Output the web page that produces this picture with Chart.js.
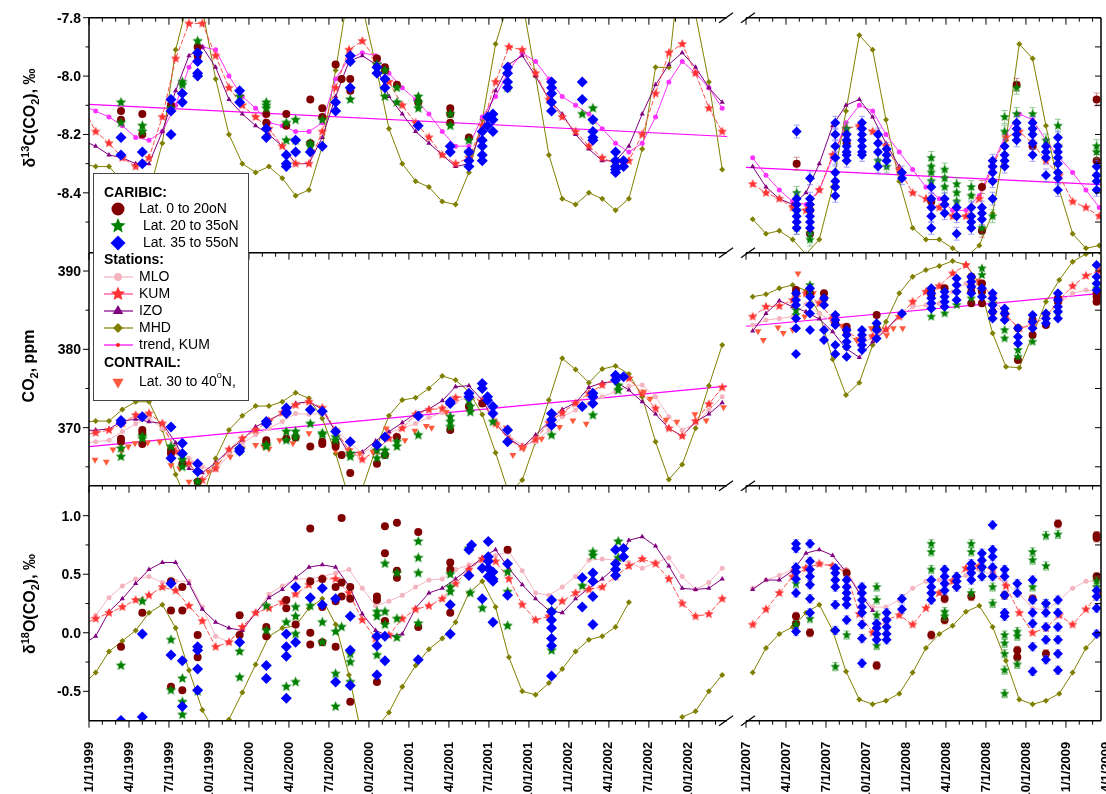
<!DOCTYPE html>
<html>
<head>
<meta charset="utf-8">
<script src="https://cdn.jsdelivr.net/npm/chart.js@4.4.1/dist/chart.umd.min.js"></script>
<style>
  html, body { margin: 0; padding: 0; background: #fff; }
  #wrap { position: relative; width: 1106px; height: 794px; overflow: hidden; }
  #wrap canvas { position: absolute; left: 0; top: 0; }
</style>
</head>
<body>
<div id="wrap"></div>
<script>
// ---- page / panel geometry ----
const W = 1106, H = 794;
const FONT = '"Liberation Sans", Arial, Helvetica, sans-serif';
const X_PIX = { L: [89, 727], R: [746, 1101] };
const X_RANGE = { L: [0, 47.86], R: [0, 26.63] };        // months since 1/1/1999 and 1/1/2007
const Y_PIX = [[17.7, 252.7], [252.7, 485.7], [485.7, 720.7]];
const Y_RANGE = [[-8.605, -7.8], [362.59, 392.34], [-0.751, 1.256]];

// ---- tick labels ----
const xLabelsLeft = ['1/1/1999', '4/1/1999', '7/1/1999', '10/1/1999', '1/1/2000', '4/1/2000', '7/1/2000', '10/1/2000',
  '1/1/2001', '4/1/2001', '7/1/2001', '10/1/2001', '1/1/2002', '4/1/2002', '7/1/2002', '10/1/2002'];
const xLabelsRight = ['1/1/2007', '4/1/2007', '7/1/2007', '10/1/2007', '1/1/2008', '4/1/2008', '7/1/2008', '10/1/2008',
  '1/1/2009', '4/1/2009'];
const yMajor = [[-7.8, -8.0, -8.2, -8.4], [370, 380, 390], [1.0, 0.5, 0.0, -0.5]];
const yMajorText = [['-7.8', '-8.0', '-8.2', '-8.4'], ['370', '380', '390'], ['1.0', '0.5', '0.0', '-0.5']];
const yMinor = [[-7.9, -8.1, -8.3, -8.5], [365, 375, 385], [0.75, 0.25, -0.25]];

// ---- colours ----
const C = {
  low: '#800000', mid: '#008000', high: '#0000ff',
  mloTop: '#ff33ff', mlo: '#f4b4c0', kum: '#ff3333', kumLine: '#ff5050',
  izo: '#800080', mhd: '#808000', trend: '#ff00ff', contrail: '#ff5a3c'
};

// ---- stations, monthly values (left panels start one month before 1/1/1999) ----
const kumTopL = [-8.10, -8.19, -8.23, -8.28, -8.31, -8.28, -8.14, -7.94, -7.82, -7.82, -7.93, -8.04, -8.10, -8.14, -8.18, -8.24, -8.30, -8.30, -8.19, -8.04, -7.91, -7.88, -7.94, -8.02, -8.10, -8.16, -8.21, -8.27, -8.30, -8.28, -8.17, -8.02, -7.90, -7.91, -7.99, -8.08, -8.14, -8.19, -8.24, -8.28, -8.30, -8.29, -8.20, -8.06, -7.92, -7.89, -7.99, -8.11, -8.19];
const izoTopL = [-8.22, -8.24, -8.27, -8.28, -8.30, -8.30, -8.19, -8.05, -7.93, -7.90, -7.97, -8.08, -8.13, -8.17, -8.20, -8.24, -8.30, -8.30, -8.21, -8.07, -7.95, -7.93, -7.96, -8.07, -8.13, -8.19, -8.23, -8.27, -8.31, -8.30, -8.18, -8.05, -7.96, -7.93, -8.00, -8.08, -8.13, -8.20, -8.25, -8.29, -8.29, -8.24, -8.13, -8.03, -7.96, -7.92, -7.97, -8.04, -8.09];
const mloTopL = [-8.10, -8.12, -8.14, -8.17, -8.21, -8.22, -8.19, -8.10, -7.97, -7.90, -7.91, -8.00, -8.07, -8.11, -8.16, -8.17, -8.19, -8.19, -8.16, -8.01, -7.94, -7.92, -7.93, -7.99, -8.04, -8.08, -8.13, -8.19, -8.24, -8.24, -8.14, -8.07, -7.98, -7.92, -7.95, -8.01, -8.07, -8.10, -8.13, -8.18, -8.23, -8.26, -8.23, -8.14, -8.02, -7.95, -7.99, -8.04, -8.11];
const mhdTopL = [-8.30, -8.31, -8.31, -8.36, -8.42, -8.40, -8.23, -7.91, -7.73, -7.77, -8.01, -8.20, -8.30, -8.33, -8.31, -8.35, -8.41, -8.39, -8.24, -7.98, -7.70, -7.76, -7.96, -8.18, -8.30, -8.36, -8.38, -8.43, -8.44, -8.33, -8.15, -7.89, -7.74, -7.74, -8.00, -8.27, -8.42, -8.44, -8.40, -8.42, -8.46, -8.42, -8.25, -7.97, -7.97, -7.55, -7.79, -8.02, -8.32];
const kumTopR = [-8.37, -8.40, -8.42, -8.45, -8.46, -8.39, -8.27, -8.18, -8.17, -8.19, -8.24, -8.32, -8.40, -8.42, -8.45, -8.48, -8.48, -8.42, -8.31, -8.21, -8.19, -8.23, -8.29, -8.34, -8.43, -8.45, -8.48];
const izoTopR = [-8.31, -8.38, -8.42, -8.44, -8.40, -8.30, -8.17, -8.10, -8.08, -8.14, -8.23, -8.31];
const mloTopR = [-8.28, -8.34, -8.39, -8.43, -8.44, -8.39, -8.28, -8.16, -8.10, -8.12, -8.20, -8.26, -8.32, -8.38, -8.42, -8.46, -8.46, -8.41, -8.30, -8.20, -8.13, -8.15, -8.22, -8.28, -8.33, -8.39, -8.45];
const mhdTopR = [-8.49, -8.54, -8.53, -8.56, -8.61, -8.56, -8.38, -8.12, -7.86, -7.91, -8.15, -8.36, -8.52, -8.56, -8.56, -8.59, -8.62, -8.58, -8.47, -8.22, -7.89, -7.94, -8.17, -8.39, -8.54, -8.59, -8.58];

const kumMidL = [369.0, 369.35, 369.69, 370.54, 371.61, 371.82, 370.54, 366.93, 365.44, 363.31, 364.80, 367.22, 368.63, 369.69, 370.84, 371.91, 372.89, 373.31, 372.55, 369.69, 367.14, 365.95, 367.01, 368.63, 369.91, 371.69, 372.29, 372.46, 373.82, 374.04, 373.31, 370.54, 368.42, 367.48, 368.50, 370.63, 371.91, 373.10, 374.38, 375.44, 376.29, 376.29, 374.38, 372.46, 369.91, 368.93, 370.84, 373.01, 375.14];
const izoMidL = [369.6, 369.69, 369.82, 370.88, 371.06, 370.76, 370.54, 368.07, 364.80, 364.24, 365.52, 367.14, 368.42, 370.12, 370.97, 371.82, 373.10, 373.31, 372.33, 369.48, 366.71, 366.9, 368.3, 369.48, 370.63, 371.82, 372.38, 373.44, 375.23, 375.36, 373.52, 370.54, 368.63, 367.48, 369.06, 370.76, 372.33, 373.18, 375.14, 375.74, 375.87, 374.80, 373.31, 371.74, 369.91, 368.93, 370.76, 371.74, 373.18];
const mloMidL = [368.0, 368.2, 368.4, 369.5, 370.5, 371.2, 369.9, 367.6, 366.1, 365.0, 364.6, 366.5, 368.0, 369.1, 369.9, 370.8, 371.8, 371.7, 371.8, 369.7, 368.2, 366.7, 367.8, 369.35, 369.91, 370.54, 371.31, 371.91, 373.31, 373.95, 373.74, 370.97, 368.84, 367.78, 368.20, 369.69, 371.40, 372.25, 373.10, 373.95, 374.59, 375.31, 375.44, 373.95, 371.40, 369.69, 370.54, 372.25, 373.95];
const mhdMidL = [370.7, 370.84, 370.84, 372.33, 373.3, 373.31, 369.78, 364.03, 359.8, 361.0, 366.07, 369.69, 371.52, 372.76, 372.76, 373.31, 374.46, 373.74, 371.18, 366.71, 361.0, 362.2, 367.22, 371.52, 373.52, 373.82, 375.01, 376.59, 376.08, 374.59, 371.69, 366.80, 361.6, 363.31, 368.2, 373.52, 378.85, 377.44, 375.74, 377.49, 377.87, 376.85, 373.95, 368.20, 363.39, 365.31, 369.91, 375.36, 380.55];
const kumMidR = [384.17, 385.44, 385.53, 386.30, 387.15, 385.87, 383.95, 382.38, 381.27, 381.70, 382.55, 384.17, 386.08, 387.36, 388.08, 389.70, 390.77, 388.64, 386.72, 384.38, 382.68, 383.10, 384.17, 386.30, 388.08, 389.40, 390.0];
const izoMidR = [382.34, 384.59, 386.21, 385.44, 384.81, 383.87, 382.25, 380.12, 378.97, 380.97, 382.47, 384.38];
const mloMidR = [383.1, 383.74, 383.95, 384.17, 385.79, 384.59, 383.53, 382.25, 380.55, 381.53, 382.47, 384.17, 385.44, 385.66, 385.87, 387.36, 388.42, 387.57, 385.87, 384.17, 382.68, 383.32, 384.38, 385.87, 387.15, 387.57, 387.36];
const mhdMidR = [386.72, 387.02, 387.79, 388.21, 387.49, 384.59, 378.72, 374.16, 375.74, 380.55, 383.53, 387.15, 389.28, 390.13, 390.64, 391.28, 390.77, 388.42, 382.04, 377.78, 377.65, 381.83, 386.08, 388.85, 391.19, 392.17, 392.47];

const kumBotL = [0.07, 0.12, 0.17, 0.22, 0.28, 0.32, 0.39, 0.36, 0.23, 0.10, -0.12, -0.08, 0.05, 0.17, 0.21, 0.26, 0.33, 0.41, 0.46, 0.46, 0.34, 0.11, -0.05, -0.02, 0.12, 0.20, 0.23, 0.29, 0.42, 0.54, 0.63, 0.61, 0.46, 0.24, 0.11, 0.14, 0.27, 0.34, 0.37, 0.39, 0.48, 0.57, 0.63, 0.59, 0.46, 0.25, 0.14, 0.16, 0.29];
const izoBotL = [-0.10, -0.03, 0.18, 0.29, 0.42, 0.54, 0.60, 0.60, 0.42, 0.20, 0.09, 0.04, 0.02, 0.17, 0.30, 0.37, 0.47, 0.56, 0.58, 0.56, 0.40, 0.16, 0.02, -0.03, -0.01, 0.21, 0.34, 0.38, 0.46, 0.55, 0.64, 0.71, 0.55, 0.41, 0.29, 0.19, 0.17, 0.29, 0.38, 0.46, 0.56, 0.79, 0.82, 0.74, 0.57, 0.38, 0.37, 0.38, 0.46];
const mloBotL = [0.08, 0.15, 0.30, 0.40, 0.46, 0.48, 0.43, 0.44, 0.44, 0.22, -0.03, -0.08, 0.04, 0.17, 0.33, 0.40, 0.46, 0.46, 0.48, 0.51, 0.54, 0.38, 0.23, 0.27, 0.32, 0.39, 0.45, 0.46, 0.54, 0.58, 0.61, 0.66, 0.69, 0.53, 0.34, 0.32, 0.39, 0.48, 0.62, 0.63, 0.62, 0.60, 0.55, 0.60, 0.64, 0.48, 0.37, 0.43, 0.55];
const mhdBotL = [-0.45, -0.34, -0.16, -0.07, 0.02, 0.17, 0.24, 0.04, -0.32, -0.66, -0.86, -0.74, -0.51, -0.27, -0.03, 0.04, 0.06, 0.21, 0.29, 0.07, -0.36, -0.90, -0.82, -0.68, -0.46, -0.28, -0.14, -0.05, 0.09, 0.34, 0.44, 0.22, -0.21, -0.50, -0.53, -0.43, -0.31, -0.16, -0.06, -0.03, 0.05, 0.26, null, null, null, -0.72, -0.67, -0.50, -0.36];
const kumBotR = [0.07, 0.20, 0.34, 0.48, 0.55, 0.59, 0.57, 0.52, 0.16, 0.00, 0.11, 0.15, 0.07, 0.21, 0.34, 0.44, 0.55, 0.57, 0.54, 0.40, 0.17, 0.00, 0.04, 0.15, 0.07, 0.20, 0.34];
const izoBotR = [0.37, 0.45, 0.45, 0.53, 0.68, 0.71, 0.66, 0.52, 0.34, 0.19];
const mloBotR = [0.38, 0.45, 0.49, 0.54, 0.56, 0.58, 0.58, 0.54, 0.35, 0.22, 0.22, 0.28, 0.38, 0.44, 0.45, 0.45, 0.49, 0.54, 0.49, 0.42, 0.33, 0.21, 0.19, 0.28, 0.38, 0.44, 0.44];
const mhdBotR = [-0.34, -0.13, -0.01, 0.05, 0.17, 0.24, 0.02, -0.33, -0.57, -0.61, -0.58, -0.52, -0.34, -0.13, -0.01, 0.06, 0.18, 0.23, 0.05, -0.24, -0.57, -0.61, -0.58, -0.52, -0.34, -0.13, -0.01];

// trend, KUM (end points)
const trendTopL = [[0, -8.097], [47.86, -8.207]];
const trendTopR = [[0, -8.313], [26.63, -8.372]];
const trendMidL = [[0, 367.57], [47.86, 375.31]];
const trendMidR = [[0, 382.95], [26.63, 387.15]];

// ---- CARIBIC samples [month, value] (left) / [month, [values]] (right) ----
const lowTopL = [[2.4, -8.12], [2.4, -8.15], [4.0, -8.13], [4.0, -8.20], [6.15, -8.10], [8.15, -7.90], [8.15, -7.93], [13.3, -8.13], [13.3, -8.16], [14.8, -8.13], [14.8, -8.17], [16.6, -8.08], [16.6, -8.23], [17.5, -8.11], [17.5, -8.14], [18.5, -7.96], [18.95, -8.01], [19.6, -8.01], [19.6, -8.05], [21.6, -7.94], [22.2, -7.97], [22.2, -7.98], [23.1, -8.03], [24.7, -8.09], [27.1, -8.11], [27.1, -8.13], [27.1, -8.16], [28.5, -8.21]];
const midTopL = [[2.4, -8.09], [2.4, -8.16], [4.0, -8.17], [4.0, -8.19], [6.15, -8.11], [7.0, -8.02], [7.0, -8.03], [8.15, -7.88], [11.3, -8.07], [13.3, -8.09], [13.3, -8.10], [13.3, -8.11], [14.8, -8.16], [14.8, -8.22], [15.5, -8.15], [15.5, -8.22], [16.6, -8.23], [16.6, -8.24], [17.5, -8.15], [19.6, -8.08], [21.6, -7.96], [22.2, -7.98], [22.2, -8.07], [23.1, -8.04], [23.1, -8.09], [24.7, -8.07], [24.7, -8.09], [24.7, -8.11], [27.1, -8.13], [27.1, -8.17], [28.5, -8.22], [28.5, -8.26], [31.4, -8.04], [37.0, -8.13], [37.8, -8.11], [37.8, -8.15], [39.5, -8.29]];
const highTopL = [[2.4, -8.21], [2.4, -8.27], [4.0, -8.26], [4.0, -8.30], [6.15, -8.08], [6.15, -8.12], [6.15, -8.20], [7.0, -8.06], [7.0, -8.09], [8.15, -7.92], [8.15, -7.95], [8.15, -7.99], [8.15, -8.00], [11.3, -8.05], [11.3, -8.09], [13.3, -8.18], [13.3, -8.21], [14.8, -8.27], [14.8, -8.30], [14.8, -8.31], [15.5, -8.22], [15.5, -8.26], [16.6, -8.26], [17.5, -8.24], [18.5, -8.09], [18.5, -8.12], [19.6, -7.93], [19.6, -7.95], [19.6, -8.04], [21.6, -7.97], [21.6, -7.99], [22.2, -8.01], [22.2, -8.04], [24.7, -8.17], [27.1, -8.24], [27.1, -8.26], [28.5, -8.26], [28.5, -8.29], [28.5, -8.31], [29.5, -8.19], [29.5, -8.22], [29.5, -8.24], [29.5, -8.27], [29.5, -8.29], [29.9, -8.14], [29.9, -8.17], [30.3, -8.13], [30.3, -8.15], [30.3, -8.19], [31.4, -7.97], [31.4, -7.99], [31.4, -8.02], [31.4, -8.04], [34.7, -8.02], [34.7, -8.04], [34.7, -8.06], [34.7, -8.09], [34.7, -8.12], [37.0, -8.02], [37.0, -8.08], [37.8, -8.15], [37.8, -8.19], [37.8, -8.21], [37.8, -8.22], [39.5, -8.26], [39.5, -8.29], [39.5, -8.31], [39.5, -8.32], [39.5, -8.33], [40.1, -8.29], [40.1, -8.31]];

const lowTopR = [[3.8, [-8.30]], [4.8, [-8.46, -8.54]], [7.55, [-8.23]], [13.9, [-8.43]], [17.7, [-8.38, -8.53]], [20.3, [-8.03]], [21.5, [-8.24]], [26.3, [-8.08, -8.29]]];
const midTopR = [[3.8, [-8.40, -8.46, -8.52]], [4.8, [-8.54, -8.56]], [7.55, [-8.18, -8.20]], [9.9, [-8.29]], [10.55, [-8.31]], [13.9, [-8.28, -8.31, -8.33, -8.36]], [14.9, [-8.32, -8.35, -8.38]], [15.8, [-8.37, -8.40, -8.43]], [16.9, [-8.38, -8.41]], [17.7, [-8.52]], [18.5, [-8.48]], [19.4, [-8.14, -8.19]], [20.3, [-8.04, -8.13]], [21.5, [-8.13, -8.18]], [22.5, [-8.22]], [23.4, [-8.17, -8.24]], [26.3, [-8.24, -8.26]]];
const highTopR = [[3.8, [-8.19, -8.42, -8.44, -8.46, -8.48, -8.50, -8.52]], [4.8, [-8.35, -8.42, -8.44, -8.46, -8.48, -8.50, -8.52]], [6.7, [-8.16, -8.20, -8.24, -8.28, -8.33, -8.36, -8.38, -8.41]], [7.55, [-8.20, -8.22, -8.24, -8.26, -8.27, -8.29]], [8.7, [-8.16, -8.18, -8.20, -8.22, -8.24, -8.26, -8.27]], [9.9, [-8.20, -8.23, -8.26, -8.31]], [10.55, [-8.25, -8.27, -8.29]], [11.7, [-8.33, -8.35]], [13.9, [-8.38, -8.42, -8.45, -8.48, -8.52]], [14.9, [-8.42, -8.44, -8.47]], [15.8, [-8.45, -8.48, -8.54]], [16.9, [-8.45, -8.48, -8.50, -8.52]], [17.7, [-8.45, -8.47, -8.49]], [18.5, [-8.29, -8.31, -8.33, -8.36, -8.42]], [19.4, [-8.24, -8.27, -8.29, -8.31]], [20.3, [-8.16, -8.18, -8.20, -8.22]], [21.5, [-8.16, -8.18, -8.20, -8.23, -8.27]], [22.5, [-8.24, -8.26, -8.28, -8.34]], [23.4, [-8.21, -8.24, -8.26, -8.28, -8.30, -8.33, -8.35, -8.39]], [26.3, [-8.31, -8.34, -8.36, -8.39]]];

const lowMidL = [[2.4, 368.6], [2.4, 368.2], [4.0, 369.7], [4.0, 369.35], [4.0, 367.9], [6.15, 367.1], [6.15, 366.7], [7.0, 365.4], [8.15, 363.1], [13.3, 368.4], [13.3, 368.1], [14.8, 368.6], [15.5, 368.75], [16.6, 367.6], [17.5, 368.2], [17.5, 367.9], [18.5, 368.0], [18.5, 367.6], [18.95, 366.5], [19.6, 364.2], [21.6, 365.4], [22.2, 366.5], [23.1, 368.8], [27.1, 369.7], [28.5, 372.7], [29.5, 373.1]];
const midMidL = [[2.4, 367.35], [2.4, 366.3], [4.0, 368.9], [4.0, 368.6], [6.15, 367.6], [7.0, 366.4], [7.0, 365.9], [7.0, 365.0], [8.15, 363.1], [11.3, 367.35], [11.3, 367.1], [13.3, 367.8], [13.3, 367.6], [14.8, 369.5], [14.8, 368.4], [15.5, 369.5], [15.5, 368.8], [16.6, 370.5], [17.5, 369.3], [17.5, 369.1], [18.5, 368.8], [18.5, 368.4], [19.6, 366.7], [19.6, 366.3], [21.6, 367.1], [21.6, 366.1], [22.2, 367.1], [22.2, 366.5], [23.1, 368.2], [23.1, 367.6], [24.7, 369.05], [27.1, 371.4], [27.1, 370.75], [27.1, 370.1], [28.5, 373.5], [28.6, 372.7], [28.6, 372.0], [30.3, 370.75], [34.7, 369.05], [37.8, 371.6], [39.7, 375.4], [39.7, 374.8]];
const highMidL = [[2.4, 370.9], [2.4, 370.6], [4.0, 371.4], [6.15, 370.1], [6.15, 366.1], [7.0, 368.0], [7.0, 366.7], [8.15, 365.4], [8.15, 364.4], [11.3, 367.3], [11.3, 367.0], [13.3, 370.8], [13.3, 370.5], [14.8, 372.5], [14.8, 372.0], [14.8, 371.8], [16.6, 372.3], [17.5, 372.1], [18.5, 369.5], [19.6, 368.2], [21.6, 367.8], [22.2, 368.8], [24.7, 371.5], [27.1, 373.3], [27.1, 373.1], [28.5, 374.4], [28.5, 373.95], [29.5, 375.65], [29.5, 375.0], [29.9, 373.95], [29.9, 373.5], [30.3, 372.7], [30.3, 371.8], [31.4, 369.7], [31.4, 368.2], [34.7, 371.8], [34.7, 371.0], [34.7, 370.3], [37.0, 372.7], [37.8, 374.4], [37.8, 373.95], [37.8, 373.1], [39.5, 376.7], [39.5, 376.1], [40.1, 376.5]];

const lowMidR = [[3.75, [387.57, 387.15]], [4.8, [387.15]], [5.85, [387.15, 386.51]], [6.7, [383.32]], [7.55, [382.89, 382.46]], [9.8, [384.38, 382.68]], [13.9, [387.57, 386.93]], [14.9, [387.79]], [16.9, [389.28, 388.0, 387.36, 385.87]], [17.7, [388.42, 387.36, 385.87]], [18.5, [384.81]], [19.4, [384.59]], [20.4, [382.68, 378.63]], [21.5, [383.74, 381.83]], [22.5, [383.1]], [23.4, [386.51, 386.08]], [26.3, [387.15, 386.72, 386.08]]];
const midMidR = [[3.75, [385.02, 384.38]], [4.8, [388.21, 387.57]], [9.8, [383.1]], [13.9, [384.17]], [14.9, [384.59]], [15.8, [385.66]], [16.9, [386.51]], [17.7, [390.34, 389.49]], [18.5, [385.87]], [19.4, [382.46, 381.4]], [20.4, [379.91, 379.06]], [21.5, [380.97]], [23.4, [384.81]], [26.3, [387.79]]];
const highMidR = [[3.75, [387.15, 386.3, 385.66, 383.95, 382.68, 379.4]], [4.8, [387.79, 386.72, 385.66, 384.59, 382.46]], [5.85, [386.51, 385.66, 382.46, 381.19]], [6.7, [384.38, 383.74, 383.1, 380.55, 379.4]], [7.55, [382.46, 381.83, 380.97, 380.34, 379.06]], [8.7, [382.46, 381.83, 381.19, 380.55, 379.91]], [9.8, [383.32, 382.46, 381.4]], [11.7, [384.59]], [13.9, [387.79, 387.15, 386.51, 385.87, 385.23]], [14.9, [387.36, 386.72, 386.08, 385.44]], [15.8, [389.06, 388.21, 387.36, 386.3]], [16.9, [389.28, 388.64, 388.0, 387.15]], [17.7, [387.79, 386.72]], [18.5, [387.15, 386.51, 385.66, 384.81, 383.95]], [19.4, [385.23, 384.59, 383.74]], [20.4, [382.68, 381.61, 380.76]], [21.5, [384.38, 383.53, 382.68]], [22.5, [384.59, 383.95, 383.32]], [23.4, [387.15, 386.3, 385.44, 384.81, 383.95]], [26.3, [390.77, 389.28, 388.42, 387.57]]];

const lowBotL = [[2.4, -0.12], [4.0, 0.17], [6.15, 0.44], [6.15, 0.19], [6.15, -0.46], [7.0, 0.39], [7.0, 0.19], [7.0, -0.49], [8.15, -0.02], [8.15, -0.21], [11.3, 0.15], [11.3, -0.02], [13.3, 0.05], [13.3, -0.03], [14.8, 0.28], [14.8, 0.21], [15.5, 0.07], [16.6, 0.89], [16.6, 0.44], [16.6, 0.0], [16.6, -0.10], [17.5, 0.46], [17.5, 0.22], [17.5, -0.08], [18.5, 0.39], [18.5, 0.27], [18.5, -0.12], [18.95, 0.98], [18.95, 0.43], [18.95, 0.31], [19.6, 0.39], [19.6, 0.29], [19.6, -0.59], [21.6, 0.31], [21.6, 0.28], [21.6, -0.42], [22.2, 0.91], [22.2, 0.68], [22.2, 0.10], [23.1, 0.94], [23.1, 0.53], [23.1, 0.47], [24.7, 0.86], [24.7, 0.05], [27.1, 0.60], [27.1, 0.54], [27.1, 0.17], [31.4, 0.71]];
const midBotL = [[2.4, -0.28], [4.0, 0.27], [6.15, -0.06], [6.15, -0.49], [7.0, -0.39], [7.0, -0.59], [7.0, -0.70], [8.15, -0.50], [11.3, -0.16], [11.3, -0.38], [13.3, 0.02], [13.3, 0.23], [14.8, 0.09], [14.8, -0.46], [15.5, 0.22], [15.5, 0.14], [15.5, -0.01], [15.5, -0.42], [16.6, 0.23], [17.5, 0.09], [17.5, -0.08], [18.5, 0.01], [18.5, -0.35], [18.5, -0.63], [18.95, 0.05], [19.6, -0.18], [19.6, -0.25], [19.6, -0.42], [21.6, 0.18], [21.6, 0.14], [21.6, -0.19], [22.2, 0.59], [22.2, 0.18], [22.2, 0.07], [23.1, 0.51], [23.1, 0.12], [23.1, -0.04], [24.7, 0.78], [24.7, 0.64], [24.7, 0.51], [24.7, 0.08], [27.1, 0.50], [27.1, 0.39], [27.1, 0.35], [28.5, 0.72], [28.6, 0.34], [29.5, 0.21], [31.4, 0.52], [31.4, 0.35], [31.4, 0.06], [34.7, 0.19], [34.7, -0.15], [37.0, 0.40], [37.8, 0.69], [37.8, 0.66], [39.7, 0.78], [39.7, 0.64]];
const highBotL = [[2.4, -0.75], [4.0, -0.01], [4.0, -0.72], [6.15, 0.42], [6.15, -0.19], [7.0, -0.24], [7.0, -0.63], [8.15, -0.12], [8.15, -0.15], [8.15, -0.31], [8.15, -0.49], [11.3, -0.08], [13.3, -0.28], [13.3, -0.39], [14.8, -0.01], [14.8, -0.12], [14.8, -0.20], [14.8, -0.56], [15.5, 0.39], [15.5, -0.08], [16.6, 0.30], [17.5, 0.38], [17.5, 0.24], [18.5, 0.29], [18.5, -0.42], [19.6, 0.14], [19.6, -0.15], [19.6, -0.45], [21.6, -0.03], [21.6, -0.11], [21.6, -0.36], [22.2, -0.03], [22.2, -0.24], [24.7, -0.23], [27.1, 0.24], [27.1, -0.01], [28.5, 0.71], [28.5, 0.49], [28.7, 0.75], [29.5, 0.55], [29.5, 0.29], [29.95, 0.78], [29.95, 0.65], [29.95, 0.61], [29.95, 0.55], [29.95, 0.48], [30.3, 0.52], [30.3, 0.46], [30.3, 0.44], [30.3, 0.09], [31.4, 0.59], [31.4, 0.32], [34.7, 0.28], [34.7, 0.18], [34.7, 0.11], [34.7, 0.04], [34.7, -0.05], [34.7, -0.11], [34.7, -0.37], [37.0, 0.47], [37.0, 0.22], [37.8, 0.51], [37.8, 0.44], [37.8, 0.31], [37.8, 0.07], [39.5, 0.71], [39.5, 0.59], [39.5, 0.54], [39.5, 0.49], [40.1, 0.72], [40.1, 0.65]];

const lowBotR = [[3.75, [0.14, 0.08]], [4.8, [0.0]], [7.55, [0.51]], [9.8, [-0.28]], [13.9, [-0.02]], [14.9, [0.29, 0.11]], [16.9, [0.31]], [19.4, [0.32]], [20.35, [-0.15, -0.21]], [21.5, [0.29]], [22.5, [-0.18]], [23.4, [0.93]], [26.3, [0.83, 0.81, 0.48]]];
const midBotR = [[3.75, [0.42, 0.07]], [4.8, [0.12]], [6.7, [-0.29]], [7.55, [-0.02]], [9.8, [0.39, 0.28, 0.15, -0.11]], [13.9, [0.76, 0.69, 0.54]], [14.9, [0.18, 0.14]], [16.9, [0.76, 0.69, 0.34]], [17.7, [0.56]], [18.5, [0.39, 0.25]], [19.4, [-0.02, -0.09, -0.18, -0.32, -0.52]], [20.35, [0.01, -0.03, -0.27]], [21.5, [0.69, 0.62, 0.39]], [22.5, [0.83, 0.57, 0.25]], [23.4, [0.84]], [26.3, [0.44, 0.39]]];
const highBotR = [[3.75, [0.76, 0.72, 0.56, 0.52, 0.46, 0.34, 0.01]], [4.8, [0.76, 0.61, 0.54, 0.48, 0.41, 0.29, 0.17]], [6.7, [0.55, 0.51, 0.45, 0.39, 0.24, 0.02]], [7.55, [0.45, 0.39, 0.34, 0.29, 0.24, 0.11]], [8.7, [0.39, 0.34, 0.28, 0.22, 0.17, 0.07, -0.05, -0.26]], [9.8, [0.08, 0.04, -0.01, -0.06]], [10.55, [0.17, 0.11, 0.05, -0.01, -0.06]], [11.7, [0.29, 0.20]], [13.9, [0.45, 0.39, 0.34, 0.28]], [14.9, [0.54, 0.48, 0.42, 0.36]], [15.8, [0.48, 0.44, 0.39]], [16.9, [0.59, 0.55, 0.51, 0.45]], [17.7, [0.68, 0.62, 0.56, 0.48]], [18.5, [0.92, 0.71, 0.65, 0.56, 0.48]], [19.4, [0.54, 0.48, 0.32, 0.17, 0.14]], [20.35, [0.42, 0.34]], [21.5, [0.45, 0.28, 0.17, 0.08, -0.12, -0.33]], [22.5, [0.25, 0.17, 0.05, -0.06, -0.23]], [23.4, [0.28, 0.17, 0.05, -0.06, -0.18, -0.32]], [26.3, [0.36, 0.31, 0.21, -0.01]]];

// ---- CONTRAIL ----
const contrailMidL = [[0.45, 365.9], [1.3, 365.65], [1.8, 367.2], [2.45, 367.1], [2.95, 367.6], [3.45, 368.0], [4.4, 368.1], [5.3, 368.2], [6.15, 365.2], [6.8, 364.8], [7.5, 363.1], [8.3, 362.9], [8.95, 364.4], [9.6, 365.4], [10.6, 366.3], [11.5, 367.35], [12.5, 367.8], [13.1, 367.6], [13.5, 367.3], [14.3, 368.4], [15.3, 368.0], [16.5, 369.3], [17.5, 368.0], [18.5, 367.1], [19.5, 367.1], [20.3, 366.7], [21.3, 366.9], [22.3, 369.9], [23.7, 368.4], [24.45, 369.6], [25.3, 370.2], [25.7, 370.0], [26.8, 372.0], [30.6, 370.3], [31.3, 370.0], [31.8, 366.5], [32.6, 367.35], [33.95, 368.6], [35.3, 370.1], [36.3, 370.9], [37.3, 370.5], [41.6, 374.6], [42.1, 373.7], [43.3, 371.0], [44.1, 370.75], [45.45, 371.7], [46.3, 370.9], [47.6, 372.6]];
const contrailMidR = [[0.9, 382.3], [1.3, 381.2], [2.4, 382.8], [2.8, 382.1], [3.5, 382.5], [3.9, 389.7], [4.4, 384.2], [5.05, 387.15], [7.2, 383.0], [8.3, 381.2], [9.4, 382.7], [10.55, 381.8], [11.05, 382.7], [11.75, 382.7]];

// ---- helpers ----
const xyPairs = arr => arr.map(([x, y]) => ({ x, y }));
const xyCols = arr => arr.flatMap(([x, ys]) => ys.map(y => ({ x, y })));
const monthly = (vals, start) => vals.map((y, i) => ({ x: start + i + 0.5, y }));

function starPath(ctx, x, y, r) {
  for (let i = 0; i < 10; i++) {
    const a = -Math.PI / 2 + i * Math.PI / 5;
    const rr = i % 2 ? r * 0.45 : r;
    const px = x + rr * Math.cos(a), py = y + rr * Math.sin(a);
    if (i === 0) ctx.moveTo(px, py); else ctx.lineTo(px, py);
  }
}
function makeStar(r, color) {
  const c = document.createElement('canvas');
  const s = Math.ceil(r * 2 + 2);
  c.width = c.height = s;
  const g = c.getContext('2d');
  g.beginPath(); starPath(g, s / 2, s / 2, r); g.closePath();
  g.fillStyle = color; g.fill();
  return c;
}
const starKum = makeStar(5, C.kum);
const starGreen = makeStar(5.5, C.mid);
const starGreenR = makeStar(5, C.mid);

function line(ctx, x1, y1, x2, y2) {
  ctx.beginPath(); ctx.moveTo(x1, y1); ctx.lineTo(x2, y2); ctx.stroke();
}

function stationSet(vals, start, color, style, r, extra) {
  return Object.assign({
    data: monthly(vals, start), showLine: true, borderColor: color, borderWidth: 1,
    pointStyle: style, pointRadius: r, pointBackgroundColor: color, pointBorderColor: color,
    pointBorderWidth: 0, spanGaps: false
  }, extra || {});
}
function scatterSet(data, style, r, color, extra) {
  return Object.assign({
    data, showLine: false, pointStyle: style, pointRadius: r,
    pointBackgroundColor: color, pointBorderColor: color, pointBorderWidth: 0
  }, extra || {});
}
function trendSet(pairs) {
  return { data: xyPairs(pairs), showLine: true, borderColor: C.trend, borderWidth: 1.2, pointRadius: 0 };
}

// error bars for the 2007-2009 CARIBIC samples
const errPlugin = {
  id: 'errbars',
  beforeDatasetDraw(chart, args) {
    const ds = chart.data.datasets[args.index];
    if (!ds.errY) return;
    const ctx = chart.ctx, ys = chart.scales.y, a = chart.chartArea;
    ctx.save();
    ctx.beginPath(); ctx.rect(a.left, a.top, a.right - a.left, a.bottom - a.top); ctx.clip();
    ctx.strokeStyle = ds.errColor; ctx.lineWidth = 1;
    args.meta.data.forEach((p, i) => {
      const v = ds.data[i].y;
      const y1 = ys.getPixelForValue(v + ds.errY), y2 = ys.getPixelForValue(v - ds.errY);
      ctx.beginPath();
      ctx.moveTo(p.x, y1); ctx.lineTo(p.x, y2);
      ctx.moveTo(p.x - 3, y1); ctx.lineTo(p.x + 3, y1);
      ctx.moveTo(p.x - 3, y2); ctx.lineTo(p.x + 3, y2);
      ctx.stroke();
    });
    ctx.restore();
  }
};

// frame, ticks and tick labels of one box
function framePlugin(side, panel) {
  return {
    id: 'frame',
    afterDraw(chart) {
      const ctx = chart.ctx, a = chart.chartArea, xs = chart.scales.x, ys = chart.scales.y;
      ctx.save();
      ctx.strokeStyle = '#000';
      ctx.lineWidth = 1.5;
      const hLines = [a.bottom];
      if (panel === 0) hLines.push(a.top);
      hLines.forEach(yy => line(ctx, a.left, yy, a.right, yy));
      const vx = side === 'L' ? a.left : a.right;
      line(ctx, vx, a.top, vx, a.bottom);
      // axis break marks
      const bx = side === 'L' ? a.right - 1 : a.left + 2;
      ctx.lineWidth = 1.3;
      hLines.forEach(yy => line(ctx, bx - 7, yy + 5, bx + 7, yy - 5));

      // month ticks
      ctx.lineWidth = 1;
      for (let m = Math.ceil(xs.min); m <= xs.max + 1e-6; m++) {
        const px = xs.getPixelForValue(m);
        const len = m % 3 === 0 ? 7 : 4;
        line(ctx, px, a.bottom, px, a.bottom + len);
        if (panel === 0) line(ctx, px, a.top, px, a.top + len);
      }
      // value ticks
      if (side === 'L') {
        yMajor[panel].forEach(v => { const py = ys.getPixelForValue(v); line(ctx, a.left - 6, py, a.left, py); });
        yMinor[panel].forEach(v => { const py = ys.getPixelForValue(v); line(ctx, a.left - 3.5, py, a.left, py); });
        ctx.fillStyle = '#000';
        ctx.font = `bold 14px ${FONT}`;
        ctx.textAlign = 'right'; ctx.textBaseline = 'middle';
        yMajor[panel].forEach((v, i) => ctx.fillText(yMajorText[panel][i], a.left - 8, ys.getPixelForValue(v) + 1));
      } else {
        yMajor[panel].concat(yMinor[panel]).forEach(v => {
          const py = ys.getPixelForValue(v); line(ctx, a.right - 6, py, a.right, py);
        });
      }
      // date labels under the lowest boxes
      if (panel === 2) {
        const labels = side === 'L' ? xLabelsLeft : xLabelsRight;
        ctx.fillStyle = '#000';
        ctx.font = `bold 13px ${FONT}`;
        ctx.textAlign = 'right'; ctx.textBaseline = 'middle';
        labels.forEach((t, i) => {
          const px = xs.getPixelForValue(i * 3);
          ctx.save(); ctx.translate(px, a.bottom + 21); ctx.rotate(-Math.PI / 2);
          ctx.fillText(t, 0, 0); ctx.restore();
        });
      }
      ctx.restore();
    }
  };
}

// rotated axis title with super/subscripts
function drawRich(ctx, cx, cy, parts) {
  ctx.save();
  ctx.translate(cx, cy); ctx.rotate(-Math.PI / 2);
  ctx.fillStyle = '#000'; ctx.textAlign = 'left'; ctx.textBaseline = 'alphabetic';
  let w = 0;
  parts.forEach(p => { ctx.font = `bold ${p.s}px ${FONT}`; p.w = ctx.measureText(p.t).width; w += p.w; });
  let x = -w / 2;
  parts.forEach(p => { ctx.font = `bold ${p.s}px ${FONT}`; ctx.fillText(p.t, x, 6 + (p.dy || 0)); x += p.w; });
  ctx.restore();
}

function marker(ctx, kind, x, y, r, color) {
  ctx.fillStyle = color;
  ctx.beginPath();
  if (kind === 'circle') ctx.arc(x, y, r, 0, Math.PI * 2);
  else if (kind === 'diamond') { ctx.moveTo(x, y - r); ctx.lineTo(x + r, y); ctx.lineTo(x, y + r); ctx.lineTo(x - r, y); }
  else if (kind === 'triangle') { ctx.moveTo(x, y - r); ctx.lineTo(x + r * 0.87, y + r * 0.5); ctx.lineTo(x - r * 0.87, y + r * 0.5); }
  else if (kind === 'triangleDown') { ctx.moveTo(x, y + r); ctx.lineTo(x + r * 0.87, y - r * 0.5); ctx.lineTo(x - r * 0.87, y - r * 0.5); }
  else if (kind === 'star') starPath(ctx, x, y, r);
  ctx.closePath(); ctx.fill();
}

const legendRows = [
  { head: 'CARIBIC:', y: 193 },
  { mk: 'circle', color: C.low, r: 6.5, text: 'Lat. 0 to 20oN', y: 209 },
  { mk: 'star', color: C.mid, r: 8, text: ' Lat. 20 to 35oN', y: 226 },
  { mk: 'diamond', color: C.high, r: 7.5, text: ' Lat. 35 to 55oN', y: 243 },
  { head: 'Stations:', y: 260 },
  { mk: 'circle', color: C.mlo, r: 4, line: C.mlo, text: 'MLO', y: 277 },
  { mk: 'star', color: C.kum, r: 7.5, line: '#ff4090', text: 'KUM', y: 294 },
  { mk: 'triangle', color: C.izo, r: 6, line: C.izo, text: 'IZO', y: 311 },
  { mk: 'diamond', color: C.mhd, r: 5, line: C.mhd, text: 'MHD', y: 328 },
  { mk: 'circle', color: '#ff2020', r: 2, line: C.trend, text: 'trend, KUM', y: 345 },
  { head: 'CONTRAIL:', y: 363 },
  { mk: 'triangleDown', color: C.contrail, r: 6.5, text: 'Lat. 30 to 40', sup: 'o', tail: 'N,', y: 382 }
];

function drawLegend(ctx) {
  ctx.save();
  ctx.fillStyle = '#fff'; ctx.fillRect(93, 173, 155, 227);
  ctx.strokeStyle = '#444'; ctx.lineWidth = 1; ctx.strokeRect(93.5, 173.5, 155, 227);
  ctx.textBaseline = 'middle'; ctx.textAlign = 'left';
  legendRows.forEach(r => {
    if (r.head) {
      ctx.fillStyle = '#000'; ctx.font = `bold 14px ${FONT}`;
      ctx.fillText(r.head, 104, r.y);
      return;
    }
    if (r.line) { ctx.strokeStyle = r.line; ctx.lineWidth = 1.2; line(ctx, 104, r.y, 133, r.y); }
    marker(ctx, r.mk, 118, r.y, r.r, r.color);
    ctx.fillStyle = '#000'; ctx.font = `14px ${FONT}`;
    ctx.fillText(r.text, 139, r.y);
    if (r.sup) {
      let x = 139 + ctx.measureText(r.text).width;
      ctx.font = `9px ${FONT}`; ctx.fillText(r.sup, x, r.y - 6);
      x += ctx.measureText(r.sup).width;
      ctx.font = `14px ${FONT}`; ctx.fillText(r.tail, x, r.y);
    }
  });
  ctx.restore();
}

const decorPlugin = {
  id: 'decor',
  afterDraw(chart) {
    const ctx = chart.ctx;
    drawRich(ctx, 29, 118, [{ t: 'δ', s: 16 }, { t: '13', s: 11, dy: -6 }, { t: 'C(CO', s: 16 }, { t: '2', s: 11, dy: 4 }, { t: '), ‰', s: 16 }]);
    drawRich(ctx, 28, 366, [{ t: 'CO', s: 16 }, { t: '2', s: 11, dy: 4 }, { t: ', ppm', s: 16 }]);
    drawRich(ctx, 29, 604, [{ t: 'δ', s: 16 }, { t: '18', s: 11, dy: -6 }, { t: 'O(CO', s: 16 }, { t: '2', s: 11, dy: 4 }, { t: '), ‰', s: 16 }]);
    drawLegend(ctx);
  }
};

// ---- build one box ----
const wrap = document.getElementById('wrap');
function makeChart(side, panel, datasets, extraPlugins) {
  const cv = document.createElement('canvas');
  cv.width = W; cv.height = H;
  wrap.appendChild(cv);
  const xp = X_PIX[side], xr = X_RANGE[side], yp = Y_PIX[panel], yr = Y_RANGE[panel];
  return new Chart(cv, {
    type: 'line',
    data: { datasets },
    options: {
      responsive: false, animation: false, devicePixelRatio: 1, events: [],
      layout: { padding: { left: xp[0], right: W - xp[1], top: yp[0], bottom: H - yp[1] } },
      plugins: { legend: { display: false }, tooltip: { enabled: false } },
      scales: {
        x: { type: 'linear', min: xr[0], max: xr[1], display: false },
        y: { type: 'linear', min: yr[0], max: yr[1], display: false }
      },
      elements: { line: { tension: 0 } }
    },
    plugins: [errPlugin, framePlugin(side, panel)].concat(extraPlugins || [])
  });
}

function caribic(low, mid, high, isCols, sizes, err) {
  const conv = isCols ? xyCols : xyPairs;
  const e = err || 0;
  return [
    scatterSet(conv(high), 'rectRot', sizes[2], C.high, { errY: e, errColor: 'rgba(90,90,255,0.55)' }),
    scatterSet(conv(mid), sizes[1] > 5 ? starGreen : starGreenR, sizes[1], C.mid, { errY: e, errColor: 'rgba(60,160,60,0.55)' }),
    scatterSet(conv(low), 'circle', sizes[0], C.low, { errY: e, errColor: 'rgba(170,60,60,0.55)' })
  ];
}
function stations(kum, izo, mlo, mhd, start, mloColor) {
  return [
    stationSet(kum, start, C.kumLine, starKum, 5, { borderDash: [5, 2] }),
    stationSet(izo, start, C.izo, 'triangle', 3),
    stationSet(mlo, start, mloColor, 'circle', 2.5),
    stationSet(mhd, start, C.mhd, 'rectRot', 3)
  ];
}
const contrailSet = pairs => scatterSet(xyPairs(pairs), 'triangle', 4, C.contrail, { pointRotation: 180 });

// lowest boxes first so that the upper ones (and the legend) lie on top
makeChart('R', 2, [...caribic(lowBotR, midBotR, highBotR, true, [4, 5, 5], 0.035),
  ...stations(kumBotR, izoBotR, mloBotR, mhdBotR, 0, C.mlo)]);
makeChart('L', 2, [...caribic(lowBotL, midBotL, highBotL, false, [4, 5.5, 5.5]),
  ...stations(kumBotL, izoBotL, mloBotL, mhdBotL, -1, C.mlo)]);
makeChart('R', 1, [...caribic(lowMidR, midMidR, highMidR, true, [4, 5, 5]), contrailSet(contrailMidR),
  ...stations(kumMidR, izoMidR, mloMidR, mhdMidR, 0, C.mlo), trendSet(trendMidR)]);
makeChart('L', 1, [...caribic(lowMidL, midMidL, highMidL, false, [4, 5.5, 5.5]), contrailSet(contrailMidL),
  ...stations(kumMidL, izoMidL, mloMidL, mhdMidL, -1, C.mlo), trendSet(trendMidL)]);
makeChart('R', 0, [...caribic(lowTopR, midTopR, highTopR, true, [4, 5, 5], 0.022),
  ...stations(kumTopR, izoTopR, mloTopR, mhdTopR, 0, C.mloTop), trendSet(trendTopR)]);
makeChart('L', 0, [...caribic(lowTopL, midTopL, highTopL, false, [4, 5.5, 5.5]),
  ...stations(kumTopL, izoTopL, mloTopL, mhdTopL, -1, C.mloTop), trendSet(trendTopL)], [decorPlugin]);
</script>
</body>
</html>
